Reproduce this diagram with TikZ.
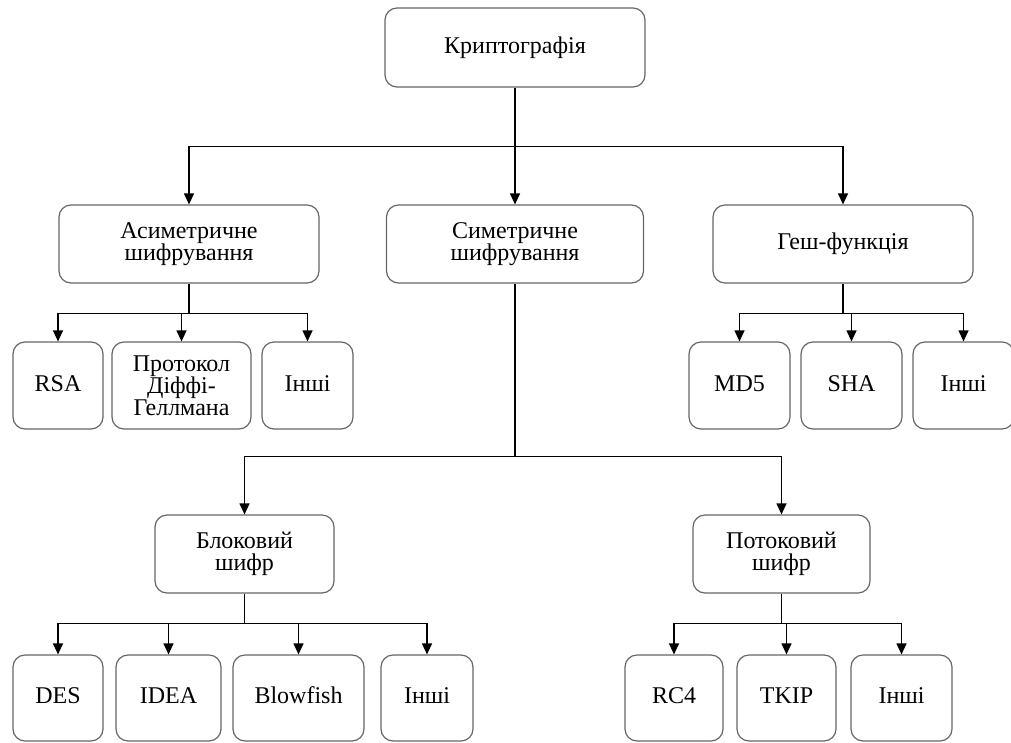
\documentclass[tikz,border=0pt]{standalone}
\usepackage{fontspec}
\setmainfont{Liberation Serif}
\usetikzlibrary{arrows.meta}
\begin{document}
\begin{tikzpicture}[x=1pt,y=-1pt,
  box/.style={draw=black!60, line width=1.2pt, rounded corners=12pt, align=center,
    inner sep=0pt, font=\fontsize{24}{22}\selectfont},
  one/.style={text height=16pt, text depth=5pt},
  top/.style={box, minimum width=260pt, minimum height=79pt},
  mid/.style={box, minimum height=78pt},
  leaf/.style={box, minimum height=87pt},
  low/.style={box, one, minimum height=86pt},
  conn/.style={draw=black, line width=1.2pt},
  arr/.style={conn, -{Triangle[width=10pt,length=11pt]}}]
\useasboundingbox (0,0) rectangle (1011,742);
\clip (0,0) rectangle (1011,742);
% level 0
\node[top, one] (root) at (515,47.5) {Криптографія};
% level 1
\node[top, minimum height=78pt] (asym) at (189,244) {Асиметричне\\шифрування};
\node[top, minimum height=78pt, minimum width=257pt] (sym) at (515,244) {Симетричне\\шифрування};
\node[top, one, minimum height=78pt] (hash) at (843,244) {Геш-функція};
% asym leaves
\node[leaf, one, minimum width=90pt] (rsa) at (58,385.5) {RSA};
\node[leaf, minimum width=139pt] (dh) at (181.5,385.5) {Протокол\\Діффі-\\Геллмана};
\node[leaf, one, minimum width=91pt] (oth1) at (307.5,385.5) {Інші};
% hash leaves
\node[leaf, one, minimum width=101pt] (md5) at (739.5,385.5) {MD5};
\node[leaf, one, minimum width=101pt] (sha) at (851.5,385.5) {SHA};
\node[leaf, one, minimum width=101pt] (oth2) at (963.5,385.5) {Інші};
% sym children
\node[mid, minimum width=179pt] (block) at (244.5,554) {Блоковий\\шифр};
\node[mid, minimum width=177pt] (stream) at (781.5,554) {Потоковий\\шифр};
% block leaves
\node[low, minimum width=90pt] (des) at (58,698) {DES};
\node[low, minimum width=105pt] (idea) at (168.5,698) {IDEA};
\node[low, minimum width=131pt] (blow) at (298.5,698) {Blowfish};
\node[low, minimum width=92pt] (oth3) at (427,698) {Інші};
% stream leaves
\node[low, minimum width=98pt] (rc4) at (674,698) {RC4};
\node[low, minimum width=99pt] (tkip) at (786.5,698) {TKIP};
\node[low, minimum width=101pt] (oth4) at (901.5,698) {Інші};
% connectors
\path (root.south) ++(0,58.5) coordinate (b0);
\draw[conn] (root.south) -- (b0);
\draw[arr] (b0) -| (asym.north);
\draw[arr] (b0) -| (hash.north);
\draw[arr] (b0) -- (sym.north);

\path (asym.south) ++(0,30) coordinate (b1);
\draw[conn] (asym.south) -- (b1);
\draw[arr] (b1) -| (rsa.north);
\draw[arr] (b1) -| (dh.north);
\draw[arr] (b1) -| (oth1.north);

\path (hash.south) ++(0,30) coordinate (b2);
\draw[conn] (hash.south) -- (b2);
\draw[arr] (b2) -| (md5.north);
\draw[arr] (b2) -| (sha.north);
\draw[arr] (b2) -| (oth2.north);

\path (sym.south) ++(0,173) coordinate (b3);
\draw[conn] (sym.south) -- (b3);
\draw[arr] (b3) -| (block.north);
\draw[arr] (b3) -| (stream.north);

\path (block.south) ++(0,30) coordinate (b4);
\draw[conn] (block.south) -- (b4);
\draw[arr] (b4) -| (des.north);
\draw[arr] (b4) -| (idea.north);
\draw[arr] (b4) -| (blow.north);
\draw[arr] (b4) -| (oth3.north);

\path (stream.south) ++(0,30) coordinate (b5);
\draw[conn] (stream.south) -- (b5);
\draw[arr] (b5) -| (rc4.north);
\draw[arr] (b5) -| (tkip.north);
\draw[arr] (b5) -| (oth4.north);
\end{tikzpicture}
\end{document}
